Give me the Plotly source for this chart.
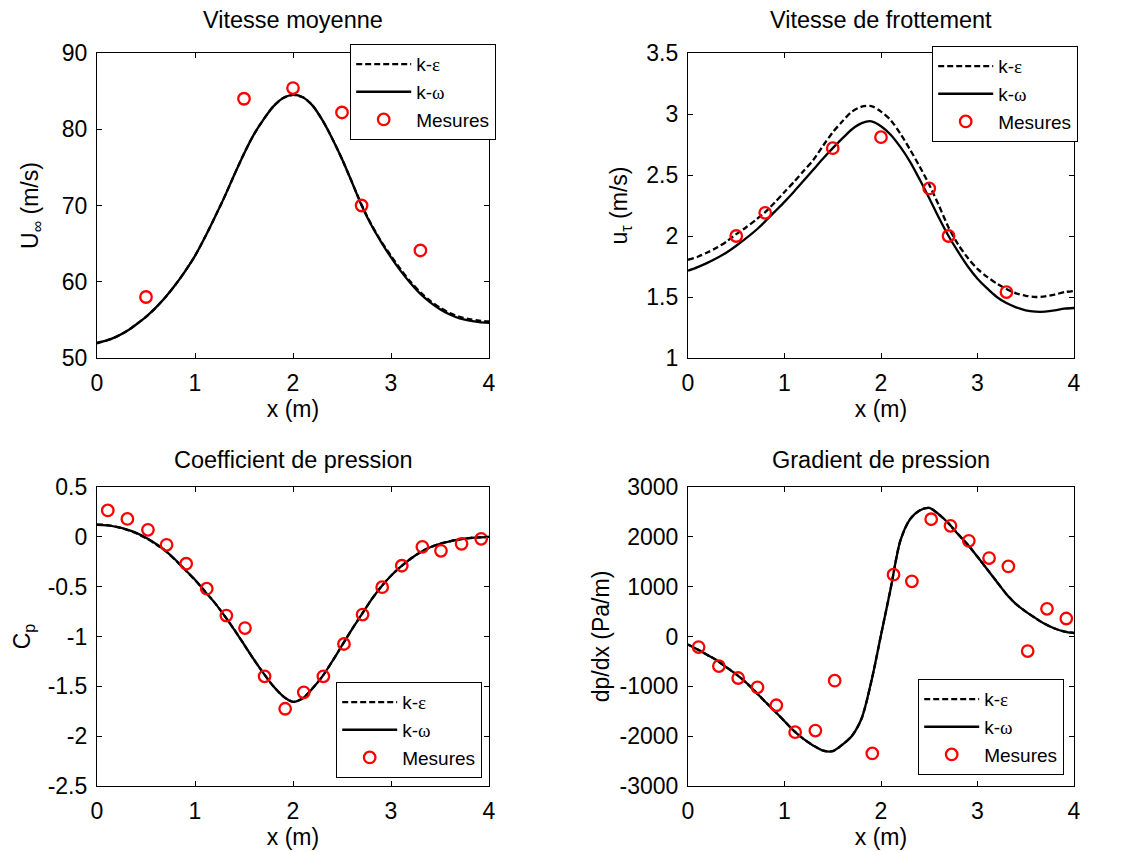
import plotly.graph_objects as go

# ---------------- data ----------------
X_SIM = [0.0, 0.1, 0.2, 0.3, 0.4, 0.5, 0.6, 0.7, 0.8, 0.9,
         1.0, 1.1, 1.2, 1.3, 1.4, 1.5, 1.6, 1.7, 1.8, 1.9,
         2.0, 2.1, 2.2, 2.3, 2.4, 2.5, 2.6, 2.7, 2.8, 2.9,
         3.0, 3.1, 3.2, 3.3, 3.4, 3.5, 3.6, 3.7, 3.8, 3.9, 4.0]

# Vitesse moyenne
U_KW = [52.0, 52.3, 52.8, 53.5, 54.4, 55.4, 56.6, 58.0, 59.6, 61.4,
        63.4, 65.8, 68.4, 71.1, 74.0, 76.8, 79.3, 81.3, 83.0, 84.1,
        84.5, 84.2, 83.1, 81.2, 78.8, 76.1, 73.1, 70.0, 67.4, 65.2,
        63.2, 61.4, 59.8, 58.4, 57.3, 56.4, 55.7, 55.2, 54.9, 54.7, 54.6]
U_KE = [51.9, 52.3, 52.8, 53.5, 54.4, 55.4, 56.6, 58.0, 59.6, 61.4,
        63.4, 65.8, 68.4, 71.1, 74.0, 76.8, 79.3, 81.3, 83.0, 84.1,
        84.5, 84.2, 83.1, 81.2, 78.8, 76.1, 73.1, 70.1, 67.5, 65.3,
        63.4, 61.6, 60.0, 58.6, 57.5, 56.6, 55.9, 55.4, 55.1, 54.9, 54.8]
U_X_MES = [0.5, 1.5, 2.0, 2.5, 2.7, 3.3]
U_MES = [58.0, 84.0, 85.4, 82.2, 70.0, 64.1]

# Vitesse de frottement
UT_KE = [1.805, 1.83, 1.865, 1.905, 1.955, 2.015, 2.07, 2.13, 2.195, 2.275,
         2.36, 2.445, 2.535, 2.625, 2.74, 2.85, 2.94, 3.02, 3.06, 3.065,
         3.02, 2.95, 2.84, 2.71, 2.57, 2.42, 2.25, 2.07, 1.93, 1.82,
         1.73, 1.665, 1.61, 1.565, 1.53, 1.51, 1.50, 1.505, 1.52, 1.54, 1.55]
UT_KW = [1.715, 1.745, 1.78, 1.82, 1.865, 1.92, 1.98, 2.045, 2.12, 2.2,
         2.28, 2.365, 2.455, 2.545, 2.635, 2.72, 2.80, 2.875, 2.925, 2.94,
         2.90, 2.83, 2.73, 2.61, 2.465, 2.31, 2.15, 2.0, 1.87, 1.75,
         1.65, 1.57, 1.50, 1.45, 1.415, 1.39, 1.38, 1.38, 1.39, 1.405, 1.41]
UT_X_MES = [0.5, 0.8, 1.5, 2.0, 2.5, 2.7, 3.3]
UT_MES = [2.0, 2.19, 2.72, 2.81, 2.39, 2.0, 1.54]

# Coefficient de pression
CP_KW = [0.12, 0.115, 0.10, 0.075, 0.04, -0.01, -0.07, -0.14, -0.23, -0.33,
         -0.43, -0.545, -0.66, -0.79, -0.93, -1.08, -1.23, -1.37, -1.50, -1.60,
         -1.655, -1.62, -1.52, -1.40, -1.25, -1.09, -0.93, -0.78, -0.63, -0.50,
         -0.39, -0.30, -0.22, -0.155, -0.105, -0.07, -0.045, -0.025, -0.012, -0.005, 0.0]
CP_KE = [0.125, 0.118, 0.10, 0.073, 0.037, -0.013, -0.073, -0.143, -0.233, -0.333,
         -0.433, -0.545, -0.66, -0.79, -0.93, -1.08, -1.23, -1.37, -1.50, -1.60,
         -1.655, -1.62, -1.52, -1.40, -1.25, -1.09, -0.93, -0.78, -0.63, -0.50,
         -0.39, -0.30, -0.22, -0.155, -0.105, -0.07, -0.045, -0.025, -0.012, -0.005, 0.0]
CP_X_MES = [0.11, 0.31, 0.52, 0.71, 0.91, 1.12, 1.32, 1.51, 1.71, 1.92,
            2.11, 2.31, 2.52, 2.71, 2.91, 3.11, 3.32, 3.51, 3.72, 3.92]
CP_MES = [0.265, 0.18, 0.07, -0.08, -0.27, -0.52, -0.79, -0.915, -1.40, -1.725,
          -1.56, -1.40, -1.075, -0.78, -0.505, -0.29, -0.10, -0.14, -0.07, -0.02]

# Gradient de pression
DP_KW = [-160, -260, -370, -480, -620, -760, -920, -1110, -1310, -1500,
         -1700, -1900, -2060, -2190, -2290, -2300, -2170, -1990, -1640, -900,
         30, 960, 1920, 2350, 2530, 2580, 2450, 2270, 2050, 1840,
         1600, 1350, 1100, 850, 650, 500, 370, 250, 160, 100, 70]
DP_KE = [-160, -260, -370, -480, -620, -760, -920, -1110, -1310, -1500,
         -1700, -1900, -2060, -2190, -2290, -2300, -2170, -1990, -1640, -900,
         30, 960, 1920, 2350, 2530, 2580, 2450, 2270, 2050, 1840,
         1600, 1350, 1100, 850, 650, 500, 370, 250, 160, 100, 70]
DP_X_MES = [0.11, 0.32, 0.52, 0.72, 0.915, 1.11, 1.32, 1.52, 1.91, 2.13,
            2.32, 2.52, 2.72, 2.91, 3.12, 3.32, 3.52, 3.72, 3.92]
DP_MES = [-213, -593, -833, -1020, -1380, -1920, -1887, -887, -2347, 1240,
          1107, 2353, 2220, 1920, 1573, 1407, -293, 555, 361]

X_TICKS = [0, 1, 2, 3, 4]
U_TICKS = [50, 60, 70, 80, 90]
UT_TICKS = [1, 1.5, 2, 2.5, 3, 3.5]
UT_TICKTEXT = ["1", "1.5", "2", "2.5", "3", "3.5"]
CP_TICKS = [-2.5, -2, -1.5, -1, -0.5, 0, 0.5]
CP_TICKTEXT = ["-2.5", "-2", "-1.5", "-1", "-0.5", "0", "0.5"]
DP_TICKS = [-3000, -2000, -1000, 0, 1000, 2000, 3000]
DP_TICKTEXT = ["-3000", "-2000", "-1000", "0", "1000", "2000", "3000"]

TITLES = ["Vitesse moyenne", "Vitesse de frottement",
          "Coefficient de pression", "Gradient de pression"]

# ---------------- figure ----------------
W, H = 1131, 852
FONT = "Liberation Sans, Arial, sans-serif"
GREEK = "<span style='font-family:Liberation Serif'>%s</span>"
NAME_KE = "k-" + GREEK % "ε"
NAME_KW = "k-" + GREEK % "ω"

fig = go.Figure()

panels = [
    dict(xa="x", ya="y", leg="legend", ke=U_KE, kw=U_KW, xm=U_X_MES, ym=U_MES),
    dict(xa="x2", ya="y2", leg="legend2", ke=UT_KE, kw=UT_KW, xm=UT_X_MES, ym=UT_MES),
    dict(xa="x3", ya="y3", leg="legend3", ke=CP_KE, kw=CP_KW, xm=CP_X_MES, ym=CP_MES),
    dict(xa="x4", ya="y4", leg="legend4", ke=DP_KE, kw=DP_KW, xm=DP_X_MES, ym=DP_MES),
]

for i, p in enumerate(panels):
    fig.add_trace(go.Scatter(x=X_SIM, y=p["ke"], mode="lines", name=NAME_KE,
                             line=dict(color="black", width=2.3, dash="6px,3px", shape="spline", smoothing=0.8),
                             xaxis=p["xa"], yaxis=p["ya"], legend=p["leg"]))
    fig.add_trace(go.Scatter(x=X_SIM, y=p["kw"], mode="lines", name=NAME_KW,
                             line=dict(color="black", width=2.3, shape="spline", smoothing=0.8),
                             xaxis=p["xa"], yaxis=p["ya"], legend=p["leg"]))
    fig.add_trace(go.Scatter(x=p["xm"], y=p["ym"], mode="markers", name="Mesures",
                             marker=dict(symbol="circle-open", size=11.5, color="red",
                                         line=dict(color="red", width=2.3)),
                             xaxis=p["xa"], yaxis=p["ya"], legend=p["leg"]))

def px_x(v):
    return v / W

def px_y(v):
    return 1 - v / H

col_dom = [[px_x(97), px_x(489)], [px_x(688), px_x(1074)]]
row_dom = [[px_y(358), px_y(53)], [px_y(786), px_y(487)]]

axis_common = dict(showline=True, linecolor="black", linewidth=1.2, mirror="ticks",
                   ticks="inside", ticklen=5, tickwidth=1, tickcolor="black",
                   showgrid=False, zeroline=False, automargin=False,
                   tickfont=dict(family=FONT, size=23, color="black"))

yinfo = [
    dict(rng=[50, 90], tv=U_TICKS, tt=[str(v) for v in U_TICKS], title="U<sub>∞</sub> (m/s)", so=16),
    dict(rng=[1, 3.5], tv=UT_TICKS, tt=UT_TICKTEXT, title="u<sub>τ</sub> (m/s)", so=12),
    dict(rng=[-2.5, 0.5], tv=CP_TICKS, tt=CP_TICKTEXT, title="C<sub>p</sub>", so=10),
    dict(rng=[-3000, 3000], tv=DP_TICKS, tt=DP_TICKTEXT, title="dp/dx (Pa/m)", so=3),
]

layout = dict(width=W, height=H, margin=dict(l=0, r=0, t=0, b=0, autoexpand=False),
              paper_bgcolor="white", plot_bgcolor="white", showlegend=True,
              font=dict(family=FONT, color="black"))

for i in range(4):
    r, c = divmod(i, 2)
    sfx = "" if i == 0 else str(i + 1)
    layout["xaxis" + sfx] = dict(domain=col_dom[c], anchor="y" + sfx, range=[0, 4],
                                 tickvals=X_TICKS, ticktext=[str(v) for v in X_TICKS],
                                 ticklabelstandoff=4,
                                 title=dict(text="x (m)", font=dict(family=FONT, size=23, color="black"), standoff=2),
                                 **axis_common)
    yi = yinfo[i]
    layout["yaxis" + sfx] = dict(domain=row_dom[r], anchor="x" + sfx, range=yi["rng"],
                                 tickvals=yi["tv"], ticktext=yi["tt"],
                                 ticklabelstandoff=4,
                                 title=dict(text=yi["title"], font=dict(family=FONT, size=23, color="black"), standoff=yi["so"]),
                                 **axis_common)

leg_pos = [(350, 44), (932, 46), (336, 682), (918, 679)]
for i, (lx, ly) in enumerate(leg_pos):
    key = "legend" if i == 0 else "legend" + str(i + 1)
    layout[key] = dict(x=px_x(lx), y=px_y(ly), xanchor="left", yanchor="top",
                       bgcolor="white", bordercolor="black", borderwidth=1.2,
                       font=dict(family=FONT, size=19, color="black"),
                       itemwidth=55, tracegroupgap=0)

annotations = []
title_y = [19.5, 19.5, 460, 460]
for i, t in enumerate(TITLES):
    r, c = divmod(i, 2)
    annotations.append(dict(text=t, x=(col_dom[c][0] + col_dom[c][1]) / 2, y=px_y(title_y[i]),
                            xref="paper", yref="paper", xanchor="center", yanchor="middle",
                            showarrow=False, font=dict(family=FONT, size=23.5, color="black")))
layout["annotations"] = annotations

fig.update_layout(**layout)
fig.write_html("out.html", config={"displayModeBar": False},
               post_script="document.body.style.margin='0px';document.body.style.overflow='hidden';")
